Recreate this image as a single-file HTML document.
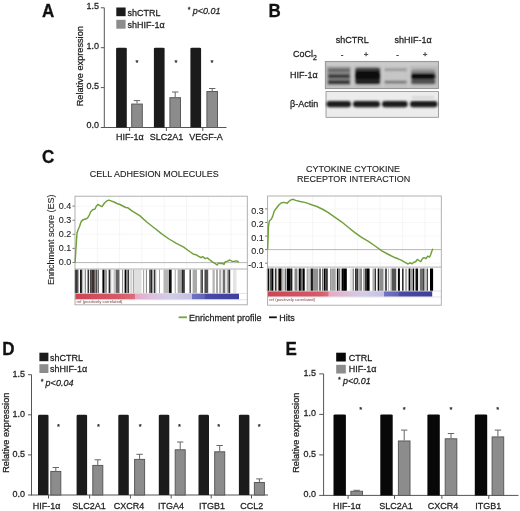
<!DOCTYPE html>
<html><head><meta charset="utf-8"><style>
html,body{margin:0;padding:0;background:#fff;}
svg{display:block;will-change:transform;filter:blur(0.3px);}
text{font-family:"Liberation Sans", sans-serif;}
</style></head><body>
<svg width="520" height="511" viewBox="0 0 520 511">
<rect width="520" height="511" fill="#fff"/>
<text transform="translate(42,16.8) scale(1,1.1)" x="0" y="0" font-size="17" font-weight="bold" fill="#111" stroke="#111" stroke-width="0.25">A</text>
<line x1="104.30" y1="7.80" x2="104.30" y2="128.00" stroke="#555" stroke-width="1"/>
<line x1="100.80" y1="127.50" x2="104.30" y2="127.50" stroke="#555" stroke-width="1"/>
<text x="99.1" y="128.5" font-size="9" text-anchor="end" fill="#1e1e1e" stroke="#1e1e1e" stroke-width="0.25" transform="translate(0,128.50) scale(1,1.08) translate(0,-128.50)">0.0</text>
<line x1="100.80" y1="87.60" x2="104.30" y2="87.60" stroke="#555" stroke-width="1"/>
<text x="99.1" y="88.6" font-size="9" text-anchor="end" fill="#1e1e1e" stroke="#1e1e1e" stroke-width="0.25" transform="translate(0,88.60) scale(1,1.08) translate(0,-88.60)">0.5</text>
<line x1="100.80" y1="47.70" x2="104.30" y2="47.70" stroke="#555" stroke-width="1"/>
<text x="99.1" y="48.7" font-size="9" text-anchor="end" fill="#1e1e1e" stroke="#1e1e1e" stroke-width="0.25" transform="translate(0,48.70) scale(1,1.08) translate(0,-48.70)">1.0</text>
<line x1="100.80" y1="7.80" x2="104.30" y2="7.80" stroke="#555" stroke-width="1"/>
<text x="99.1" y="8.800000000000011" font-size="9" text-anchor="end" fill="#1e1e1e" stroke="#1e1e1e" stroke-width="0.25" transform="translate(0,8.80) scale(1,1.08) translate(0,-8.80)">1.5</text>
<line x1="104.30" y1="127.50" x2="226.50" y2="127.50" stroke="#555" stroke-width="1"/>
<text x="83" y="66.2" font-size="9.2" text-anchor="middle" fill="#1e1e1e" transform="rotate(-90 83 66.2)" stroke="#1e1e1e" stroke-width="0.25">Relative expression</text>
<path d="M116.10,127.50 V48.70 Q116.10,47.70 117.60,47.70 H125.30 Q126.80,47.70 126.80,48.70 V127.50 Z" fill="#1b1b1b"/>
<line x1="137.00" y1="100.60" x2="137.00" y2="103.56" stroke="#666" stroke-width="1"/>
<line x1="133.80" y1="100.60" x2="140.20" y2="100.60" stroke="#666" stroke-width="1"/>
<rect x="131.70" y="104.06" width="10.60" height="23.44" fill="#8c8c8c" stroke="#5a5a5a" stroke-width="1"/>
<line x1="129.60" y1="127.50" x2="129.60" y2="131.00" stroke="#555" stroke-width="1"/>
<text x="129.8" y="140.4" font-size="9" text-anchor="middle" fill="#1e1e1e" stroke="#1e1e1e" stroke-width="0.25" transform="translate(0,140.40) scale(1,1.08) translate(0,-140.40)">HIF-1α</text>
<text x="137" y="65" font-size="7.5" text-anchor="middle" fill="#1e1e1e" stroke="#1e1e1e" stroke-width="0.25">*</text>
<path d="M153.90,127.50 V48.70 Q153.90,47.70 155.40,47.70 H163.10 Q164.60,47.70 164.60,48.70 V127.50 Z" fill="#1b1b1b"/>
<line x1="175.20" y1="92.00" x2="175.20" y2="97.18" stroke="#666" stroke-width="1"/>
<line x1="172.00" y1="92.00" x2="178.40" y2="92.00" stroke="#666" stroke-width="1"/>
<rect x="169.90" y="97.68" width="10.60" height="29.82" fill="#8c8c8c" stroke="#5a5a5a" stroke-width="1"/>
<line x1="166.40" y1="127.50" x2="166.40" y2="131.00" stroke="#555" stroke-width="1"/>
<text x="166.5" y="140.4" font-size="9" text-anchor="middle" fill="#1e1e1e" stroke="#1e1e1e" stroke-width="0.25" transform="translate(0,140.40) scale(1,1.08) translate(0,-140.40)">SLC2A1</text>
<text x="176" y="65" font-size="7.5" text-anchor="middle" fill="#1e1e1e" stroke="#1e1e1e" stroke-width="0.25">*</text>
<path d="M190.40,127.50 V48.70 Q190.40,47.70 191.90,47.70 H199.60 Q201.10,47.70 201.10,48.70 V127.50 Z" fill="#1b1b1b"/>
<line x1="212.20" y1="88.50" x2="212.20" y2="91.03" stroke="#666" stroke-width="1"/>
<line x1="209.00" y1="88.50" x2="215.40" y2="88.50" stroke="#666" stroke-width="1"/>
<rect x="206.90" y="91.53" width="10.60" height="35.97" fill="#8c8c8c" stroke="#5a5a5a" stroke-width="1"/>
<line x1="202.80" y1="127.50" x2="202.80" y2="131.00" stroke="#555" stroke-width="1"/>
<text x="206" y="140.4" font-size="9" text-anchor="middle" fill="#1e1e1e" stroke="#1e1e1e" stroke-width="0.25" transform="translate(0,140.40) scale(1,1.08) translate(0,-140.40)">VEGF-A</text>
<text x="212" y="65" font-size="7.5" text-anchor="middle" fill="#1e1e1e" stroke="#1e1e1e" stroke-width="0.25">*</text>
<rect x="116.30" y="7.50" width="9.30" height="8.70" fill="#1b1b1b"/>
<rect x="116.30" y="19.80" width="9.30" height="8.90" fill="#8c8c8c"/>
<text x="127.5" y="15.6" font-size="9" text-anchor="start" fill="#1e1e1e" stroke="#1e1e1e" stroke-width="0.25" transform="translate(0,15.60) scale(1,1.08) translate(0,-15.60)">shCTRL</text>
<text x="127.5" y="28.3" font-size="9" text-anchor="start" fill="#1e1e1e" stroke="#1e1e1e" stroke-width="0.25" transform="translate(0,28.30) scale(1,1.08) translate(0,-28.30)">shHIF-1α</text>
<text x="187.5" y="13.7" font-size="9" text-anchor="start" fill="#1e1e1e" font-style="italic" stroke="#1e1e1e" stroke-width="0.25" transform="translate(0,13.70) scale(1,1.08) translate(0,-13.70)"><tspan font-size="7" dy="-1.5">*</tspan><tspan dy="1.5"> p&lt;</tspan>0.01</text>
<text transform="translate(2.2,354.9) scale(1,1.1)" x="0" y="0" font-size="17" font-weight="bold" fill="#111" stroke="#111" stroke-width="0.25">D</text>
<line x1="31.50" y1="374.70" x2="31.50" y2="495.50" stroke="#555" stroke-width="1"/>
<line x1="28.00" y1="495.00" x2="31.50" y2="495.00" stroke="#555" stroke-width="1"/>
<text x="25.0" y="497.1" font-size="9" text-anchor="end" fill="#1e1e1e" stroke="#1e1e1e" stroke-width="0.25" transform="translate(0,497.10) scale(1,1.08) translate(0,-497.10)">0.0</text>
<line x1="28.00" y1="454.90" x2="31.50" y2="454.90" stroke="#555" stroke-width="1"/>
<text x="25.0" y="457.0" font-size="9" text-anchor="end" fill="#1e1e1e" stroke="#1e1e1e" stroke-width="0.25" transform="translate(0,457.00) scale(1,1.08) translate(0,-457.00)">0.5</text>
<line x1="28.00" y1="414.80" x2="31.50" y2="414.80" stroke="#555" stroke-width="1"/>
<text x="25.0" y="416.90000000000003" font-size="9" text-anchor="end" fill="#1e1e1e" stroke="#1e1e1e" stroke-width="0.25" transform="translate(0,416.90) scale(1,1.08) translate(0,-416.90)">1.0</text>
<line x1="28.00" y1="374.70" x2="31.50" y2="374.70" stroke="#555" stroke-width="1"/>
<text x="25.0" y="376.8" font-size="9" text-anchor="end" fill="#1e1e1e" stroke="#1e1e1e" stroke-width="0.25" transform="translate(0,376.80) scale(1,1.08) translate(0,-376.80)">1.5</text>
<line x1="31.50" y1="495.00" x2="268.00" y2="495.00" stroke="#555" stroke-width="1"/>
<text x="9" y="432.7" font-size="9.2" text-anchor="middle" fill="#1e1e1e" transform="rotate(-90 9 432.7)" stroke="#1e1e1e" stroke-width="0.25">Relative expression</text>
<path d="M38.00,495.00 V415.80 Q38.00,414.80 39.50,414.80 H47.00 Q48.50,414.80 48.50,415.80 V495.00 Z" fill="#1b1b1b"/>
<line x1="55.80" y1="467.50" x2="55.80" y2="470.94" stroke="#666" stroke-width="1"/>
<line x1="52.60" y1="467.50" x2="59.00" y2="467.50" stroke="#666" stroke-width="1"/>
<rect x="50.80" y="471.44" width="10.00" height="23.56" fill="#8c8c8c" stroke="#5a5a5a" stroke-width="1"/>
<line x1="48.50" y1="495.00" x2="48.50" y2="498.50" stroke="#555" stroke-width="1"/>
<text x="46.7" y="509" font-size="9" text-anchor="middle" fill="#1e1e1e" stroke="#1e1e1e" stroke-width="0.25" transform="translate(0,509.00) scale(1,1.08) translate(0,-509.00)">HIF-1α</text>
<text x="58.5" y="429" font-size="7.5" text-anchor="middle" fill="#1e1e1e" stroke="#1e1e1e" stroke-width="0.25">*</text>
<path d="M76.60,495.00 V415.80 Q76.60,414.80 78.10,414.80 H85.60 Q87.10,414.80 87.10,415.80 V495.00 Z" fill="#1b1b1b"/>
<line x1="97.80" y1="459.80" x2="97.80" y2="464.93" stroke="#666" stroke-width="1"/>
<line x1="94.60" y1="459.80" x2="101.00" y2="459.80" stroke="#666" stroke-width="1"/>
<rect x="92.80" y="465.43" width="10.00" height="29.57" fill="#8c8c8c" stroke="#5a5a5a" stroke-width="1"/>
<line x1="89.60" y1="495.00" x2="89.60" y2="498.50" stroke="#555" stroke-width="1"/>
<text x="89.1" y="509" font-size="9" text-anchor="middle" fill="#1e1e1e" stroke="#1e1e1e" stroke-width="0.25" transform="translate(0,509.00) scale(1,1.08) translate(0,-509.00)">SLC2A1</text>
<text x="98.5" y="429" font-size="7.5" text-anchor="middle" fill="#1e1e1e" stroke="#1e1e1e" stroke-width="0.25">*</text>
<path d="M118.30,495.00 V415.80 Q118.30,414.80 119.80,414.80 H127.30 Q128.80,414.80 128.80,415.80 V495.00 Z" fill="#1b1b1b"/>
<line x1="139.60" y1="454.30" x2="139.60" y2="458.91" stroke="#666" stroke-width="1"/>
<line x1="136.40" y1="454.30" x2="142.80" y2="454.30" stroke="#666" stroke-width="1"/>
<rect x="134.60" y="459.41" width="10.00" height="35.59" fill="#8c8c8c" stroke="#5a5a5a" stroke-width="1"/>
<line x1="130.40" y1="495.00" x2="130.40" y2="498.50" stroke="#555" stroke-width="1"/>
<text x="128.9" y="509" font-size="9" text-anchor="middle" fill="#1e1e1e" stroke="#1e1e1e" stroke-width="0.25" transform="translate(0,509.00) scale(1,1.08) translate(0,-509.00)">CXCR4</text>
<text x="140.2" y="429" font-size="7.5" text-anchor="middle" fill="#1e1e1e" stroke="#1e1e1e" stroke-width="0.25">*</text>
<path d="M158.80,495.00 V415.80 Q158.80,414.80 160.30,414.80 H167.80 Q169.30,414.80 169.30,415.80 V495.00 Z" fill="#1b1b1b"/>
<line x1="180.20" y1="442.00" x2="180.20" y2="449.29" stroke="#666" stroke-width="1"/>
<line x1="177.00" y1="442.00" x2="183.40" y2="442.00" stroke="#666" stroke-width="1"/>
<rect x="175.20" y="449.79" width="10.00" height="45.21" fill="#8c8c8c" stroke="#5a5a5a" stroke-width="1"/>
<line x1="171.20" y1="495.00" x2="171.20" y2="498.50" stroke="#555" stroke-width="1"/>
<text x="170.9" y="509" font-size="9" text-anchor="middle" fill="#1e1e1e" stroke="#1e1e1e" stroke-width="0.25" transform="translate(0,509.00) scale(1,1.08) translate(0,-509.00)">ITGA4</text>
<text x="179.5" y="429" font-size="7.5" text-anchor="middle" fill="#1e1e1e" stroke="#1e1e1e" stroke-width="0.25">*</text>
<path d="M198.50,495.00 V415.80 Q198.50,414.80 200.00,414.80 H207.50 Q209.00,414.80 209.00,415.80 V495.00 Z" fill="#1b1b1b"/>
<line x1="219.70" y1="445.50" x2="219.70" y2="451.29" stroke="#666" stroke-width="1"/>
<line x1="216.50" y1="445.50" x2="222.90" y2="445.50" stroke="#666" stroke-width="1"/>
<rect x="214.70" y="451.79" width="10.00" height="43.21" fill="#8c8c8c" stroke="#5a5a5a" stroke-width="1"/>
<line x1="211.20" y1="495.00" x2="211.20" y2="498.50" stroke="#555" stroke-width="1"/>
<text x="212" y="509" font-size="9" text-anchor="middle" fill="#1e1e1e" stroke="#1e1e1e" stroke-width="0.25" transform="translate(0,509.00) scale(1,1.08) translate(0,-509.00)">ITGB1</text>
<text x="218.8" y="429" font-size="7.5" text-anchor="middle" fill="#1e1e1e" stroke="#1e1e1e" stroke-width="0.25">*</text>
<path d="M238.90,495.00 V415.80 Q238.90,414.80 240.40,414.80 H247.90 Q249.40,414.80 249.40,415.80 V495.00 Z" fill="#1b1b1b"/>
<line x1="259.40" y1="478.90" x2="259.40" y2="482.01" stroke="#666" stroke-width="1"/>
<line x1="256.20" y1="478.90" x2="262.60" y2="478.90" stroke="#666" stroke-width="1"/>
<rect x="254.40" y="482.51" width="10.00" height="12.49" fill="#8c8c8c" stroke="#5a5a5a" stroke-width="1"/>
<line x1="251.50" y1="495.00" x2="251.50" y2="498.50" stroke="#555" stroke-width="1"/>
<text x="251.8" y="509" font-size="9" text-anchor="middle" fill="#1e1e1e" stroke="#1e1e1e" stroke-width="0.25" transform="translate(0,509.00) scale(1,1.08) translate(0,-509.00)">CCL2</text>
<text x="259.2" y="429" font-size="7.5" text-anchor="middle" fill="#1e1e1e" stroke="#1e1e1e" stroke-width="0.25">*</text>
<rect x="39.40" y="352.70" width="9.00" height="8.50" fill="#1b1b1b"/>
<rect x="39.40" y="364.20" width="9.00" height="8.80" fill="#8c8c8c"/>
<text x="50" y="360.6" font-size="9" text-anchor="start" fill="#1e1e1e" stroke="#1e1e1e" stroke-width="0.25" transform="translate(0,360.60) scale(1,1.08) translate(0,-360.60)">shCTRL</text>
<text x="50" y="372.3" font-size="9" text-anchor="start" fill="#1e1e1e" stroke="#1e1e1e" stroke-width="0.25" transform="translate(0,372.30) scale(1,1.08) translate(0,-372.30)">shHIF-1α</text>
<text x="40.4" y="386" font-size="9" text-anchor="start" fill="#1e1e1e" font-style="italic" stroke="#1e1e1e" stroke-width="0.25" transform="translate(0,386.00) scale(1,1.08) translate(0,-386.00)"><tspan font-size="7" dy="-1.5">*</tspan><tspan dy="1.5"> p&lt;</tspan>0.04</text>
<text transform="translate(285.6,354.7) scale(1,1.1)" x="0" y="0" font-size="17" font-weight="bold" fill="#111" stroke="#111" stroke-width="0.25">E</text>
<line x1="323.60" y1="373.90" x2="323.60" y2="495.90" stroke="#555" stroke-width="1"/>
<line x1="319.20" y1="495.40" x2="323.60" y2="495.40" stroke="#555" stroke-width="1"/>
<text x="315.90000000000003" y="497.5" font-size="9" text-anchor="end" fill="#1e1e1e" stroke="#1e1e1e" stroke-width="0.25" transform="translate(0,497.50) scale(1,1.08) translate(0,-497.50)">0.0</text>
<line x1="319.20" y1="454.90" x2="323.60" y2="454.90" stroke="#555" stroke-width="1"/>
<text x="315.90000000000003" y="457.0" font-size="9" text-anchor="end" fill="#1e1e1e" stroke="#1e1e1e" stroke-width="0.25" transform="translate(0,457.00) scale(1,1.08) translate(0,-457.00)">0.5</text>
<line x1="319.20" y1="414.40" x2="323.60" y2="414.40" stroke="#555" stroke-width="1"/>
<text x="315.90000000000003" y="416.5" font-size="9" text-anchor="end" fill="#1e1e1e" stroke="#1e1e1e" stroke-width="0.25" transform="translate(0,416.50) scale(1,1.08) translate(0,-416.50)">1.0</text>
<line x1="319.20" y1="373.90" x2="323.60" y2="373.90" stroke="#555" stroke-width="1"/>
<text x="315.90000000000003" y="376.0" font-size="9" text-anchor="end" fill="#1e1e1e" stroke="#1e1e1e" stroke-width="0.25" transform="translate(0,376.00) scale(1,1.08) translate(0,-376.00)">1.5</text>
<line x1="323.60" y1="495.40" x2="518.50" y2="495.40" stroke="#555" stroke-width="1"/>
<text x="299" y="432.7" font-size="9.2" text-anchor="middle" fill="#1e1e1e" transform="rotate(-90 299 432.7)" stroke="#1e1e1e" stroke-width="0.25">Relative expression</text>
<path d="M333.50,495.40 V415.40 Q333.50,414.40 335.00,414.40 H344.40 Q345.90,414.40 345.90,415.40 V495.40 Z" fill="#080808"/>
<line x1="356.70" y1="490.30" x2="356.70" y2="490.78" stroke="#666" stroke-width="1"/>
<line x1="353.50" y1="490.30" x2="359.90" y2="490.30" stroke="#666" stroke-width="1"/>
<rect x="350.90" y="491.28" width="11.60" height="4.12" fill="#8c8c8c" stroke="#5a5a5a" stroke-width="1"/>
<line x1="348.10" y1="495.40" x2="348.10" y2="498.90" stroke="#555" stroke-width="1"/>
<text x="346.8" y="509.0" font-size="9" text-anchor="middle" fill="#1e1e1e" stroke="#1e1e1e" stroke-width="0.25" transform="translate(0,509.00) scale(1,1.08) translate(0,-509.00)">HIF-1α</text>
<text x="360.8" y="412" font-size="7.5" text-anchor="middle" fill="#1e1e1e" stroke="#1e1e1e" stroke-width="0.25">*</text>
<path d="M380.30,495.40 V415.40 Q380.30,414.40 381.80,414.40 H391.20 Q392.70,414.40 392.70,415.40 V495.40 Z" fill="#080808"/>
<line x1="404.20" y1="430.10" x2="404.20" y2="440.48" stroke="#666" stroke-width="1"/>
<line x1="401.00" y1="430.10" x2="407.40" y2="430.10" stroke="#666" stroke-width="1"/>
<rect x="398.40" y="440.98" width="11.60" height="54.42" fill="#8c8c8c" stroke="#5a5a5a" stroke-width="1"/>
<line x1="394.50" y1="495.40" x2="394.50" y2="498.90" stroke="#555" stroke-width="1"/>
<text x="395.9" y="509.0" font-size="9" text-anchor="middle" fill="#1e1e1e" stroke="#1e1e1e" stroke-width="0.25" transform="translate(0,509.00) scale(1,1.08) translate(0,-509.00)">SLC2A1</text>
<text x="404.3" y="412" font-size="7.5" text-anchor="middle" fill="#1e1e1e" stroke="#1e1e1e" stroke-width="0.25">*</text>
<path d="M427.40,495.40 V415.40 Q427.40,414.40 428.90,414.40 H438.30 Q439.80,414.40 439.80,415.40 V495.40 Z" fill="#080808"/>
<line x1="451.00" y1="433.50" x2="451.00" y2="438.29" stroke="#666" stroke-width="1"/>
<line x1="447.80" y1="433.50" x2="454.20" y2="433.50" stroke="#666" stroke-width="1"/>
<rect x="445.20" y="438.79" width="11.60" height="56.61" fill="#8c8c8c" stroke="#5a5a5a" stroke-width="1"/>
<line x1="441.90" y1="495.40" x2="441.90" y2="498.90" stroke="#555" stroke-width="1"/>
<text x="443" y="509.0" font-size="9" text-anchor="middle" fill="#1e1e1e" stroke="#1e1e1e" stroke-width="0.25" transform="translate(0,509.00) scale(1,1.08) translate(0,-509.00)">CXCR4</text>
<text x="450.9" y="412" font-size="7.5" text-anchor="middle" fill="#1e1e1e" stroke="#1e1e1e" stroke-width="0.25">*</text>
<path d="M474.80,495.40 V415.40 Q474.80,414.40 476.30,414.40 H485.70 Q487.20,414.40 487.20,415.40 V495.40 Z" fill="#080808"/>
<line x1="497.90" y1="430.10" x2="497.90" y2="436.43" stroke="#666" stroke-width="1"/>
<line x1="494.70" y1="430.10" x2="501.10" y2="430.10" stroke="#666" stroke-width="1"/>
<rect x="492.10" y="436.93" width="11.60" height="58.47" fill="#8c8c8c" stroke="#5a5a5a" stroke-width="1"/>
<line x1="488.80" y1="495.40" x2="488.80" y2="498.90" stroke="#555" stroke-width="1"/>
<text x="488.3" y="509.0" font-size="9" text-anchor="middle" fill="#1e1e1e" stroke="#1e1e1e" stroke-width="0.25" transform="translate(0,509.00) scale(1,1.08) translate(0,-509.00)">ITGB1</text>
<text x="497.7" y="412" font-size="7.5" text-anchor="middle" fill="#1e1e1e" stroke="#1e1e1e" stroke-width="0.25">*</text>
<rect x="336.20" y="352.70" width="9.60" height="8.80" fill="#080808"/>
<rect x="336.20" y="364.80" width="9.60" height="8.70" fill="#8c8c8c"/>
<text x="348.8" y="361" font-size="9" text-anchor="start" fill="#1e1e1e" stroke="#1e1e1e" stroke-width="0.25" transform="translate(0,361.00) scale(1,1.08) translate(0,-361.00)">CTRL</text>
<text x="348.8" y="372.5" font-size="9" text-anchor="start" fill="#1e1e1e" stroke="#1e1e1e" stroke-width="0.25" transform="translate(0,372.50) scale(1,1.08) translate(0,-372.50)">HIF-1α</text>
<text x="337.7" y="384" font-size="9" text-anchor="start" fill="#1e1e1e" font-style="italic" stroke="#1e1e1e" stroke-width="0.25" transform="translate(0,384.00) scale(1,1.08) translate(0,-384.00)"><tspan font-size="7" dy="-1.5">*</tspan><tspan dy="1.5"> p&lt;</tspan>0.01</text>
<defs>
<linearGradient id="gl" x1="0" x2="1" y1="0" y2="0"><stop offset="0" stop-color="#cc4454"/><stop offset="0.2735" stop-color="#d75a68"/><stop offset="0.3669" stop-color="#df6c7a"/><stop offset="0.3681" stop-color="#e6a8c6"/><stop offset="0.4567" stop-color="#dcc0dc"/><stop offset="0.5788" stop-color="#d2cce8"/><stop offset="0.7125" stop-color="#c4c0e6"/><stop offset="0.7137" stop-color="#7272c4"/><stop offset="0.7924" stop-color="#6262b8"/><stop offset="0.7937" stop-color="#4a4aa8"/><stop offset="1" stop-color="#3e3e9e"/></linearGradient>
<linearGradient id="gr" x1="0" x2="1" y1="0" y2="0"><stop offset="0" stop-color="#cc4454"/><stop offset="0.3171" stop-color="#d75a68"/><stop offset="0.3682" stop-color="#df6c7a"/><stop offset="0.3694" stop-color="#e6a8c6"/><stop offset="0.4997" stop-color="#dcc0dc"/><stop offset="0.5910" stop-color="#d2cce8"/><stop offset="0.7079" stop-color="#c4c0e6"/><stop offset="0.7091" stop-color="#7272c4"/><stop offset="0.7961" stop-color="#6262b8"/><stop offset="0.7973" stop-color="#4a4aa8"/><stop offset="1" stop-color="#3e3e9e"/></linearGradient>
<filter id="bl1" x="-20%" y="-60%" width="140%" height="220%"><feGaussianBlur stdDeviation="0.9"/></filter>
<filter id="bl2" x="-20%" y="-60%" width="140%" height="220%"><feGaussianBlur stdDeviation="1.3"/></filter>
<filter id="blh" x="-5%" y="-5%" width="110%" height="110%"><feGaussianBlur stdDeviation="0.35 0.2"/></filter>
</defs>
<text transform="translate(268.5,17.0) scale(1,1.07)" x="0" y="0" font-size="17" font-weight="bold" fill="#111" stroke="#111" stroke-width="0.25">B</text>
<text x="335.8" y="43.5" font-size="9" fill="#1e1e1e" stroke="#1e1e1e" stroke-width="0.25" transform="translate(0,43.50) scale(1,1.08) translate(0,-43.50)">shCTRL</text>
<text x="394.6" y="43.5" font-size="9" fill="#1e1e1e" stroke="#1e1e1e" stroke-width="0.25" transform="translate(0,43.50) scale(1,1.08) translate(0,-43.50)">shHIF-1α</text>
<text x="293" y="57" font-size="9" fill="#1e1e1e" stroke="#1e1e1e" stroke-width="0.25" transform="translate(0,57.00) scale(1,1.08) translate(0,-57.00)">CoCl<tspan font-size="7" dy="2.5">2</tspan></text>
<text x="342" y="56.5" font-size="8" text-anchor="middle" fill="#1e1e1e" stroke="#1e1e1e" stroke-width="0.25">-</text>
<text x="366" y="56.5" font-size="8" text-anchor="middle" fill="#1e1e1e" stroke="#1e1e1e" stroke-width="0.25">+</text>
<text x="397.5" y="56.5" font-size="8" text-anchor="middle" fill="#1e1e1e" stroke="#1e1e1e" stroke-width="0.25">-</text>
<text x="425" y="56.5" font-size="8" text-anchor="middle" fill="#1e1e1e" stroke="#1e1e1e" stroke-width="0.25">+</text>
<text x="290" y="78.4" font-size="9" fill="#1e1e1e" stroke="#1e1e1e" stroke-width="0.25" transform="translate(0,78.40) scale(1,1.08) translate(0,-78.40)">HIF-1α</text>
<text x="290" y="106.6" font-size="9" fill="#1e1e1e" stroke="#1e1e1e" stroke-width="0.25" transform="translate(0,106.60) scale(1,1.08) translate(0,-106.60)">β-Actin</text>
<rect x="325.3" y="61.5" width="113.3" height="27.1" fill="#bababa"/>
<g filter="url(#bl1)">
<rect x="326" y="62" width="112" height="4" fill="#cbcbcb"/>
<rect x="326" y="85.5" width="112" height="2.5" fill="#c4c4c4"/>
<rect x="351.2" y="63" width="2.2" height="24" fill="#cdcdcd"/>
<rect x="381.8" y="63" width="2.2" height="24" fill="#cdcdcd"/>
<rect x="407.6" y="63" width="2.2" height="24" fill="#cdcdcd"/>
<rect x="327.5" y="67" width="23" height="18" fill="#8e8e8e"/>
<rect x="328.3" y="69.2" width="21.5" height="2.5" fill="#5c5c5c"/>
<rect x="328.3" y="74.2" width="21.5" height="4.0" fill="#383838"/>
<rect x="328.3" y="80.2" width="21.5" height="4.0" fill="#303030"/>
<rect x="355" y="67.5" width="25.3" height="17" rx="3" fill="#4a4a4a"/>
<path d="M354.6,76 L356.5,70.5 H378.8 L380.7,76 L378.8,81 H356.5 Z" fill="#0a0a0a"/>
<rect x="356" y="79" width="23.5" height="5" fill="#222"/>
<rect x="384.3" y="66" width="22.4" height="19" fill="#c6c6c6"/>
<rect x="384.5" y="68.6" width="22" height="2.2" fill="#8e8e8e"/>
<rect x="384.5" y="80.8" width="22" height="2.6" fill="#6c6c6c"/>
<rect x="411" y="69.5" width="24.5" height="15" rx="3" fill="#8a8a8a"/>
<path d="M410.6,76.4 L412.3,73.2 H434 L435.8,76.4 L434,79.6 H412.3 Z" fill="#0a0a0a"/>
<rect x="411.5" y="80.3" width="23.5" height="3.4" fill="#4a4a4a"/>
</g>
<rect x="325.3" y="61.5" width="113.3" height="27.1" fill="none" stroke="#8a8a8a" stroke-width="0.8"/>
<rect x="326" y="91.6" width="112.5" height="25.7" fill="#ececec" stroke="#8a8a8a" stroke-width="0.8"/>
<g filter="url(#bl1)">
<rect x="326.5" y="101" width="24.5" height="6.2" rx="3" fill="#1a1a1a"/>
<rect x="353" y="101" width="27" height="6.2" rx="3" fill="#1a1a1a"/>
<rect x="382" y="101" width="25.69999999999999" height="6.2" rx="3" fill="#1a1a1a"/>
<rect x="410" y="101" width="27.5" height="6.2" rx="3" fill="#1a1a1a"/>
<rect x="412" y="96.5" width="22" height="2" fill="#cfcfcf"/>
</g>
<text transform="translate(42,162.8) scale(1,1.1)" x="0" y="0" font-size="17" font-weight="bold" fill="#111" stroke="#111" stroke-width="0.25">C</text>
<text x="154.3" y="177.1" font-size="9" text-anchor="middle" fill="#1e1e1e" stroke="#1e1e1e" stroke-width="0.12" transform="translate(0,177.10) scale(1,1.08) translate(0,-177.10)">CELL ADHESION MOLECULES</text>
<text x="353" y="171.7" font-size="9" text-anchor="middle" fill="#1e1e1e" stroke="#1e1e1e" stroke-width="0.12" transform="translate(0,171.70) scale(1,1.08) translate(0,-171.70)">CYTOKINE CYTOKINE</text>
<text x="353.7" y="182.4" font-size="9" text-anchor="middle" fill="#1e1e1e" stroke="#1e1e1e" stroke-width="0.12" transform="translate(0,182.40) scale(1,1.08) translate(0,-182.40)">RECEPTOR INTERACTION</text>
<text x="54" y="239.8" font-size="9" text-anchor="middle" fill="#1e1e1e" stroke="#1e1e1e" stroke-width="0.1" transform="rotate(-90 54 239.8)">Enrichment score (ES)</text>
<line x1="97.3" y1="196.2" x2="97.3" y2="269" stroke="#f3f3f3" stroke-width="0.8"/>
<line x1="119.6" y1="196.2" x2="119.6" y2="269" stroke="#f3f3f3" stroke-width="0.8"/>
<line x1="141.9" y1="196.2" x2="141.9" y2="269" stroke="#f3f3f3" stroke-width="0.8"/>
<line x1="164.2" y1="196.2" x2="164.2" y2="269" stroke="#f3f3f3" stroke-width="0.8"/>
<line x1="186.5" y1="196.2" x2="186.5" y2="269" stroke="#f3f3f3" stroke-width="0.8"/>
<line x1="208.8" y1="196.2" x2="208.8" y2="269" stroke="#f3f3f3" stroke-width="0.8"/>
<line x1="231.1" y1="196.2" x2="231.1" y2="269" stroke="#f3f3f3" stroke-width="0.8"/>
<line x1="75" y1="206.1" x2="247.3" y2="206.1" stroke="#f5f5f5" stroke-width="0.8"/>
<line x1="75" y1="220.2" x2="247.3" y2="220.2" stroke="#f5f5f5" stroke-width="0.8"/>
<line x1="75" y1="234.3" x2="247.3" y2="234.3" stroke="#f5f5f5" stroke-width="0.8"/>
<line x1="75" y1="248.4" x2="247.3" y2="248.4" stroke="#f5f5f5" stroke-width="0.8"/>
<line x1="75" y1="262.5" x2="247.3" y2="262.5" stroke="#f5f5f5" stroke-width="0.8"/>
<line x1="75" y1="262.6" x2="247.3" y2="262.6" stroke="#b0b0b0" stroke-width="0.9"/>
<line x1="72.5" y1="206.1" x2="75" y2="206.1" stroke="#555" stroke-width="0.8"/>
<text x="71.2" y="209.00" font-size="9" text-anchor="end" fill="#1e1e1e" stroke="#1e1e1e" stroke-width="0.1" transform="translate(0,209.00) scale(1,1.08) translate(0,-209.00)">0.4</text>
<line x1="72.5" y1="220.2" x2="75" y2="220.2" stroke="#555" stroke-width="0.8"/>
<text x="71.2" y="223.10" font-size="9" text-anchor="end" fill="#1e1e1e" stroke="#1e1e1e" stroke-width="0.1" transform="translate(0,223.10) scale(1,1.08) translate(0,-223.10)">0.3</text>
<line x1="72.5" y1="234.3" x2="75" y2="234.3" stroke="#555" stroke-width="0.8"/>
<text x="71.2" y="237.20" font-size="9" text-anchor="end" fill="#1e1e1e" stroke="#1e1e1e" stroke-width="0.1" transform="translate(0,237.20) scale(1,1.08) translate(0,-237.20)">0.2</text>
<line x1="72.5" y1="248.4" x2="75" y2="248.4" stroke="#555" stroke-width="0.8"/>
<text x="71.2" y="251.30" font-size="9" text-anchor="end" fill="#1e1e1e" stroke="#1e1e1e" stroke-width="0.1" transform="translate(0,251.30) scale(1,1.08) translate(0,-251.30)">0.1</text>
<line x1="72.5" y1="262.5" x2="75" y2="262.5" stroke="#555" stroke-width="0.8"/>
<text x="71.2" y="265.40" font-size="9" text-anchor="end" fill="#1e1e1e" stroke="#1e1e1e" stroke-width="0.1" transform="translate(0,265.40) scale(1,1.08) translate(0,-265.40)">0.0</text>
<g filter="url(#blh)">
<rect x="74.9" y="269.6" width="1.40" height="23.80" fill="#000000"/>
<rect x="76.3" y="269.6" width="1.45" height="23.80" fill="#000000"/>
<rect x="77.75" y="269.6" width="1.15" height="23.80" fill="#9b9b9b"/>
<rect x="78.9" y="269.6" width="1.20" height="23.80" fill="#fafafa"/>
<rect x="80.1" y="269.6" width="1.10" height="23.80" fill="#000000"/>
<rect x="81.2" y="269.6" width="0.90" height="23.80" fill="#131313"/>
<rect x="82.1" y="269.6" width="1.40" height="23.80" fill="#b6b6b6"/>
<rect x="83.5" y="269.6" width="1.20" height="23.80" fill="#ffffff"/>
<rect x="84.7" y="269.6" width="1.40" height="23.80" fill="#8d8d8d"/>
<rect x="86.1" y="269.6" width="0.90" height="23.80" fill="#ffffff"/>
<rect x="87" y="269.6" width="0.80" height="23.80" fill="#aaaaaa"/>
<rect x="87.8" y="269.6" width="1.20" height="23.80" fill="#363636"/>
<rect x="89" y="269.6" width="1.20" height="23.80" fill="#e4e4e4"/>
<rect x="90.2" y="269.6" width="1.10" height="23.80" fill="#1a1a1a"/>
<rect x="91.3" y="269.6" width="3.50" height="23.80" fill="#3c2e2e"/>
<rect x="94.8" y="269.6" width="1.10" height="23.80" fill="#8d8d8d"/>
<rect x="95.9" y="269.6" width="0.90" height="23.80" fill="#000000"/>
<rect x="96.8" y="269.6" width="1.40" height="23.80" fill="#aaaaaa"/>
<rect x="98.2" y="269.6" width="0.60" height="23.80" fill="#1a1a1a"/>
<rect x="102" y="269.6" width="0.60" height="23.80" fill="#8d8d8d"/>
<rect x="102.6" y="269.6" width="2.00" height="23.80" fill="#000000"/>
<rect x="104.6" y="269.6" width="2.60" height="23.80" fill="#9b9b9b"/>
<rect x="107.2" y="269.6" width="0.90" height="23.80" fill="#ffffff"/>
<rect x="108.1" y="269.6" width="1.10" height="23.80" fill="#aaaaaa"/>
<rect x="109.2" y="269.6" width="1.20" height="23.80" fill="#000000"/>
<rect x="110.4" y="269.6" width="1.10" height="23.80" fill="#aaaaaa"/>
<rect x="111.5" y="269.6" width="1.20" height="23.80" fill="#ffffff"/>
<rect x="112.7" y="269.6" width="1.10" height="23.80" fill="#e4e4e4"/>
<rect x="113.8" y="269.6" width="2.00" height="23.80" fill="#c4c4c4"/>
<rect x="115.8" y="269.6" width="3.70" height="23.80" fill="#646464"/>
<rect x="122" y="269.6" width="1.10" height="23.80" fill="#8d8d8d"/>
<rect x="124.6" y="269.6" width="1.90" height="23.80" fill="#000000"/>
<rect x="126.5" y="269.6" width="1.10" height="23.80" fill="#8d8d8d"/>
<rect x="127.6" y="269.6" width="1.50" height="23.80" fill="#363636"/>
<rect x="130.6" y="269.6" width="1.10" height="23.80" fill="#aaaaaa"/>
<rect x="131.7" y="269.6" width="0.60" height="23.80" fill="#ffffff"/>
<rect x="132.8" y="269.6" width="1.20" height="23.80" fill="#aaaaaa"/>
<rect x="134" y="269.6" width="7.50" height="23.80" fill="#dfdfdf"/>
<rect x="143" y="269.6" width="1.40" height="23.80" fill="#aaaaaa"/>
<rect x="144.4" y="269.6" width="1.50" height="23.80" fill="#ffffff"/>
<rect x="145.9" y="269.6" width="1.10" height="23.80" fill="#8d8d8d"/>
<rect x="149" y="269.6" width="1.50" height="23.80" fill="#707070"/>
<rect x="150.5" y="269.6" width="1.40" height="23.80" fill="#000000"/>
<rect x="151.9" y="269.6" width="0.90" height="23.80" fill="#8d8d8d"/>
<rect x="153.7" y="269.6" width="1.70" height="23.80" fill="#363636"/>
<rect x="155.4" y="269.6" width="0.90" height="23.80" fill="#aaaaaa"/>
<rect x="158" y="269.6" width="1.20" height="23.80" fill="#ffffff"/>
<rect x="159.2" y="269.6" width="0.80" height="23.80" fill="#8d8d8d"/>
<rect x="163.5" y="269.6" width="5.50" height="23.80" fill="#b6b6b6"/>
<rect x="169" y="269.6" width="2.60" height="23.80" fill="#090909"/>
<rect x="174.7" y="269.6" width="1.20" height="23.80" fill="#aaaaaa"/>
<rect x="175.9" y="269.6" width="1.70" height="23.80" fill="#ffffff"/>
<rect x="177.6" y="269.6" width="3.50" height="23.80" fill="#aaaaaa"/>
<rect x="181.1" y="269.6" width="1.10" height="23.80" fill="#8d8d8d"/>
<rect x="182.2" y="269.6" width="1.50" height="23.80" fill="#000000"/>
<rect x="183.7" y="269.6" width="1.10" height="23.80" fill="#363636"/>
<rect x="189.5" y="269.6" width="1.40" height="23.80" fill="#535353"/>
<rect x="192.6" y="269.6" width="4.40" height="23.80" fill="#aaaaaa"/>
<rect x="200.4" y="269.6" width="1.20" height="23.80" fill="#707070"/>
<rect x="201.6" y="269.6" width="1.10" height="23.80" fill="#000000"/>
<rect x="204.5" y="269.6" width="1.40" height="23.80" fill="#363636"/>
<rect x="205.9" y="269.6" width="2.30" height="23.80" fill="#535353"/>
<rect x="212.5" y="269.6" width="2.40" height="23.80" fill="#b6b6b6"/>
<rect x="214.9" y="269.6" width="1.10" height="23.80" fill="#ffffff"/>
<rect x="216" y="269.6" width="2.00" height="23.80" fill="#aaaaaa"/>
<rect x="218" y="269.6" width="1.20" height="23.80" fill="#ffffff"/>
<rect x="219.2" y="269.6" width="2.30" height="23.80" fill="#aaaaaa"/>
<rect x="221.5" y="269.6" width="1.20" height="23.80" fill="#ffffff"/>
<rect x="222.7" y="269.6" width="2.80" height="23.80" fill="#707070"/>
<rect x="225.5" y="269.6" width="1.20" height="23.80" fill="#ffffff"/>
<rect x="226.7" y="269.6" width="1.70" height="23.80" fill="#aaaaaa"/>
<rect x="228.4" y="269.6" width="1.80" height="23.80" fill="#363636"/>
<rect x="233" y="269.6" width="3.50" height="23.80" fill="#e4e4e4"/>
</g>
<rect x="75.2" y="293.4" width="163.80" height="6.00" fill="url(#gl)"/>
<line x1="75" y1="293.4" x2="247.3" y2="293.4" stroke="#d8d8d8" stroke-width="0.7"/>
<line x1="75" y1="299.7" x2="247.3" y2="299.7" stroke="#d8d8d8" stroke-width="0.7"/>
<text x="76.6" y="303.2" font-size="4.2" fill="#7a3a3a" stroke="none">ref (positively correlated)</text>
<line x1="75" y1="269" x2="247.3" y2="269" stroke="#a0a0a0" stroke-width="0.8"/>
<rect x="75" y="196.2" width="172.3" height="108.60000000000002" fill="none" stroke="#a8a8a8" stroke-width="0.9"/>
<polyline points="75.1,262.6 75.9,249.3 77,233 78,230 79.5,226.5 81,222 82.5,220 84.7,219.2 86.9,218.5 88.3,217 89.8,214 90.5,211.9 92.7,209.7 95,209 96.4,206 97.9,204.5 100,205.6 102,206.7 104.5,203 106.7,200.9 108.9,200.1 111,200.9 114,202 117,203.5 119.9,204.5 122.8,206 125.7,207.5 127.9,207.8 132.3,211.1 139.7,215.6 147,222.3 154.4,228 161.7,233.9 169,239 176.4,243.4 183.7,247.1 189.6,251.5 193.5,254.2 196.3,254.8 198.7,256.3 201,257.7 202.7,256.5 205,258.6 207.3,257.9 210.2,260.2 213,262.3 215.4,263.7 217.1,265 218.8,262.9 220.6,263.5 222.3,263.2 224,264.4 225.2,261.7 226.9,261.4 229.8,260 232.1,261.4 234.4,261.2 236.7,260.9 239,262.3" fill="none" stroke="#70a03a" stroke-width="1.45" stroke-linejoin="round"/>
<line x1="290.1" y1="196" x2="290.1" y2="267.1" stroke="#f3f3f3" stroke-width="0.8"/>
<line x1="312.6" y1="196" x2="312.6" y2="267.1" stroke="#f3f3f3" stroke-width="0.8"/>
<line x1="335.1" y1="196" x2="335.1" y2="267.1" stroke="#f3f3f3" stroke-width="0.8"/>
<line x1="357.6" y1="196" x2="357.6" y2="267.1" stroke="#f3f3f3" stroke-width="0.8"/>
<line x1="380.1" y1="196" x2="380.1" y2="267.1" stroke="#f3f3f3" stroke-width="0.8"/>
<line x1="402.6" y1="196" x2="402.6" y2="267.1" stroke="#f3f3f3" stroke-width="0.8"/>
<line x1="425.1" y1="196" x2="425.1" y2="267.1" stroke="#f3f3f3" stroke-width="0.8"/>
<line x1="267.6" y1="208.9" x2="441.3" y2="208.9" stroke="#f5f5f5" stroke-width="0.8"/>
<line x1="267.6" y1="222.5" x2="441.3" y2="222.5" stroke="#f5f5f5" stroke-width="0.8"/>
<line x1="267.6" y1="236.1" x2="441.3" y2="236.1" stroke="#f5f5f5" stroke-width="0.8"/>
<line x1="267.6" y1="249.6" x2="441.3" y2="249.6" stroke="#f5f5f5" stroke-width="0.8"/>
<line x1="267.6" y1="263.2" x2="441.3" y2="263.2" stroke="#f5f5f5" stroke-width="0.8"/>
<line x1="267.6" y1="249.6" x2="441.3" y2="249.6" stroke="#b0b0b0" stroke-width="0.9"/>
<line x1="265.1" y1="208.9" x2="267.6" y2="208.9" stroke="#555" stroke-width="0.8"/>
<text x="263.8" y="213.80" font-size="9" text-anchor="end" fill="#1e1e1e" stroke="#1e1e1e" stroke-width="0.1" transform="translate(0,213.80) scale(1,1.08) translate(0,-213.80)">0.3</text>
<line x1="265.1" y1="222.5" x2="267.6" y2="222.5" stroke="#555" stroke-width="0.8"/>
<text x="263.8" y="227.40" font-size="9" text-anchor="end" fill="#1e1e1e" stroke="#1e1e1e" stroke-width="0.1" transform="translate(0,227.40) scale(1,1.08) translate(0,-227.40)">0.2</text>
<line x1="265.1" y1="236.1" x2="267.6" y2="236.1" stroke="#555" stroke-width="0.8"/>
<text x="263.8" y="241.00" font-size="9" text-anchor="end" fill="#1e1e1e" stroke="#1e1e1e" stroke-width="0.1" transform="translate(0,241.00) scale(1,1.08) translate(0,-241.00)">0.1</text>
<line x1="265.1" y1="249.6" x2="267.6" y2="249.6" stroke="#555" stroke-width="0.8"/>
<text x="263.8" y="254.50" font-size="9" text-anchor="end" fill="#1e1e1e" stroke="#1e1e1e" stroke-width="0.1" transform="translate(0,254.50) scale(1,1.08) translate(0,-254.50)">0.0</text>
<line x1="265.1" y1="263.2" x2="267.6" y2="263.2" stroke="#555" stroke-width="0.8"/>
<text x="263.8" y="268.10" font-size="9" text-anchor="end" fill="#1e1e1e" stroke="#1e1e1e" stroke-width="0.1" transform="translate(0,268.10) scale(1,1.08) translate(0,-268.10)">-0.1</text>
<g filter="url(#blh)">
<rect x="266.9" y="268.5" width="0.80" height="22.60" fill="#000000"/>
<rect x="267.7" y="268.5" width="1.50" height="22.60" fill="#000000"/>
<rect x="269.2" y="268.5" width="1.10" height="22.60" fill="#aaaaaa"/>
<rect x="270.3" y="268.5" width="1.20" height="22.60" fill="#1a1a1a"/>
<rect x="271.5" y="268.5" width="1.70" height="22.60" fill="#000000"/>
<rect x="273.2" y="268.5" width="0.90" height="22.60" fill="#8d8d8d"/>
<rect x="274.1" y="268.5" width="1.10" height="22.60" fill="#e4e4e4"/>
<rect x="275.2" y="268.5" width="1.20" height="22.60" fill="#000000"/>
<rect x="276.4" y="268.5" width="0.90" height="22.60" fill="#8d8d8d"/>
<rect x="277.3" y="268.5" width="1.10" height="22.60" fill="#e4e4e4"/>
<rect x="278.4" y="268.5" width="3.20" height="22.60" fill="#090505"/>
<rect x="281.6" y="268.5" width="1.10" height="22.60" fill="#8d8d8d"/>
<rect x="282.7" y="268.5" width="2.30" height="22.60" fill="#c7c7c7"/>
<rect x="285" y="268.5" width="1.20" height="22.60" fill="#707070"/>
<rect x="286.8" y="268.5" width="3.40" height="22.60" fill="#000000"/>
<rect x="290.2" y="268.5" width="1.80" height="22.60" fill="#1a1a1a"/>
<rect x="292" y="268.5" width="1.10" height="22.60" fill="#aaaaaa"/>
<rect x="294.3" y="268.5" width="0.90" height="22.60" fill="#aaaaaa"/>
<rect x="295.2" y="268.5" width="1.70" height="22.60" fill="#707070"/>
<rect x="296.9" y="268.5" width="2.00" height="22.60" fill="#c7c7c7"/>
<rect x="298.9" y="268.5" width="2.00" height="22.60" fill="#000000"/>
<rect x="300.9" y="268.5" width="1.80" height="22.60" fill="#707070"/>
<rect x="302.7" y="268.5" width="2.00" height="22.60" fill="#000000"/>
<rect x="306.7" y="268.5" width="1.10" height="22.60" fill="#8d8d8d"/>
<rect x="307.8" y="268.5" width="2.90" height="22.60" fill="#c4c4c4"/>
<rect x="310.7" y="268.5" width="1.50" height="22.60" fill="#241313"/>
<rect x="312.2" y="268.5" width="0.80" height="22.60" fill="#000000"/>
<rect x="313" y="268.5" width="5.20" height="22.60" fill="#919191"/>
<rect x="318.2" y="268.5" width="1.20" height="22.60" fill="#e4e4e4"/>
<rect x="319.4" y="268.5" width="1.40" height="22.60" fill="#1a1a1a"/>
<rect x="320.8" y="268.5" width="1.20" height="22.60" fill="#ffffff"/>
<rect x="322" y="268.5" width="1.10" height="22.60" fill="#707070"/>
<rect x="323.7" y="268.5" width="1.50" height="22.60" fill="#000000"/>
<rect x="325.2" y="268.5" width="2.60" height="22.60" fill="#363636"/>
<rect x="330.1" y="268.5" width="1.10" height="22.60" fill="#8d8d8d"/>
<rect x="331.2" y="268.5" width="4.60" height="22.60" fill="#a3a3a3"/>
<rect x="335.8" y="268.5" width="1.20" height="22.60" fill="#e4e4e4"/>
<rect x="337" y="268.5" width="1.40" height="22.60" fill="#000000"/>
<rect x="338.4" y="268.5" width="2.10" height="22.60" fill="#707070"/>
<rect x="340.5" y="268.5" width="1.10" height="22.60" fill="#ffffff"/>
<rect x="341.6" y="268.5" width="1.50" height="22.60" fill="#000000"/>
<rect x="343.1" y="268.5" width="3.70" height="22.60" fill="#000000"/>
<rect x="349.7" y="268.5" width="2.90" height="22.60" fill="#e4e4e4"/>
<rect x="352.6" y="268.5" width="1.40" height="22.60" fill="#8d8d8d"/>
<rect x="355.2" y="268.5" width="1.40" height="22.60" fill="#000000"/>
<rect x="356.6" y="268.5" width="1.50" height="22.60" fill="#363636"/>
<rect x="358.1" y="268.5" width="2.60" height="22.60" fill="#aaaaaa"/>
<rect x="360.7" y="268.5" width="0.80" height="22.60" fill="#1a1a1a"/>
<rect x="363" y="268.5" width="2.00" height="22.60" fill="#aaaaaa"/>
<rect x="365" y="268.5" width="2.00" height="22.60" fill="#363636"/>
<rect x="367" y="268.5" width="2.60" height="22.60" fill="#000000"/>
<rect x="372.5" y="268.5" width="2.30" height="22.60" fill="#aaaaaa"/>
<rect x="374.8" y="268.5" width="1.20" height="22.60" fill="#363636"/>
<rect x="377.7" y="268.5" width="1.50" height="22.60" fill="#090909"/>
<rect x="379.2" y="268.5" width="4.30" height="22.60" fill="#8d8d8d"/>
<rect x="384.9" y="268.5" width="2.30" height="22.60" fill="#535353"/>
<rect x="387.2" y="268.5" width="0.90" height="22.60" fill="#ffffff"/>
<rect x="388.1" y="268.5" width="1.20" height="22.60" fill="#aaaaaa"/>
<rect x="389.3" y="268.5" width="1.10" height="22.60" fill="#ffffff"/>
<rect x="390.4" y="268.5" width="1.40" height="22.60" fill="#aaaaaa"/>
<rect x="391.8" y="268.5" width="4.70" height="22.60" fill="#535353"/>
<rect x="396.5" y="268.5" width="1.40" height="22.60" fill="#ffffff"/>
<rect x="397.9" y="268.5" width="2.00" height="22.60" fill="#000000"/>
<rect x="402.2" y="268.5" width="1.50" height="22.60" fill="#000000"/>
<rect x="403.7" y="268.5" width="1.40" height="22.60" fill="#ffffff"/>
<rect x="405.1" y="268.5" width="2.30" height="22.60" fill="#aaaaaa"/>
<rect x="407.4" y="268.5" width="1.20" height="22.60" fill="#ffffff"/>
<rect x="408.6" y="268.5" width="1.70" height="22.60" fill="#000000"/>
<rect x="410.3" y="268.5" width="1.50" height="22.60" fill="#8d8d8d"/>
<rect x="412.6" y="268.5" width="1.80" height="22.60" fill="#000000"/>
<rect x="414.4" y="268.5" width="1.10" height="22.60" fill="#ffffff"/>
<rect x="415.5" y="268.5" width="2.60" height="22.60" fill="#090909"/>
<rect x="419.8" y="268.5" width="3.50" height="22.60" fill="#707070"/>
<rect x="423.3" y="268.5" width="1.20" height="22.60" fill="#000000"/>
<rect x="424.5" y="268.5" width="2.30" height="22.60" fill="#c7c7c7"/>
<rect x="426.8" y="268.5" width="1.10" height="22.60" fill="#363636"/>
<rect x="430" y="268.5" width="3.10" height="22.60" fill="#000000"/>
</g>
<rect x="267.9" y="291.1" width="164.30" height="5.60" fill="url(#gr)"/>
<line x1="267.6" y1="291.1" x2="441.3" y2="291.1" stroke="#d8d8d8" stroke-width="0.7"/>
<line x1="267.6" y1="297.0" x2="441.3" y2="297.0" stroke="#d8d8d8" stroke-width="0.7"/>
<text x="269.20000000000005" y="301.4" font-size="4.2" fill="#7a3a3a" stroke="none">ref (positively correlated)</text>
<line x1="267.6" y1="267.1" x2="441.3" y2="267.1" stroke="#a0a0a0" stroke-width="0.8"/>
<rect x="267.6" y="196" width="173.7" height="109.19999999999999" fill="none" stroke="#a8a8a8" stroke-width="0.9"/>
<polyline points="267.6,249.6 268.1,237.8 268.4,227.1 269.3,221 271.1,219.5 272.7,216.4 274.2,211.1 276.5,208 278.8,205 281.1,203 283.4,202.4 285.6,202.7 287.2,203.4 288.7,201.5 291,199.9 293.3,199.3 295.6,200.4 300.1,201.5 304.7,202.4 307.8,203.4 312.3,205 316.9,206.5 323,209.5 328,212.4 334.7,217.1 341.5,221.8 348.2,227.2 354.9,232.6 361.6,237.3 368.4,241.3 375.1,246 381.8,250.8 388.6,254.5 395.3,257.8 398,258.8 401.2,260.2 404.6,262.2 408.1,264 409.8,262.8 412.1,263.7 413.8,262.2 415.6,261.7 417.3,259.4 419,260.5 420.8,261.7 422.5,258.5 424.2,257.7 426,258.7 427.7,256.2 429.4,257.1 430.6,255 431.7,251.5 432.9,248.7" fill="none" stroke="#70a03a" stroke-width="1.45" stroke-linejoin="round"/>
<line x1="178.6" y1="317.3" x2="186.9" y2="317.3" stroke="#72a63a" stroke-width="1.8"/>
<text x="189" y="321" font-size="9" fill="#1e1e1e" stroke="#1e1e1e" stroke-width="0.25" transform="translate(0,321.00) scale(1,1.08) translate(0,-321.00)">Enrichment profile</text>
<line x1="269" y1="317.3" x2="276.8" y2="317.3" stroke="#111" stroke-width="1.8"/>
<text x="279.2" y="321" font-size="9" fill="#1e1e1e" stroke="#1e1e1e" stroke-width="0.25" transform="translate(0,321.00) scale(1,1.08) translate(0,-321.00)">Hits</text>
</svg></body></html>
